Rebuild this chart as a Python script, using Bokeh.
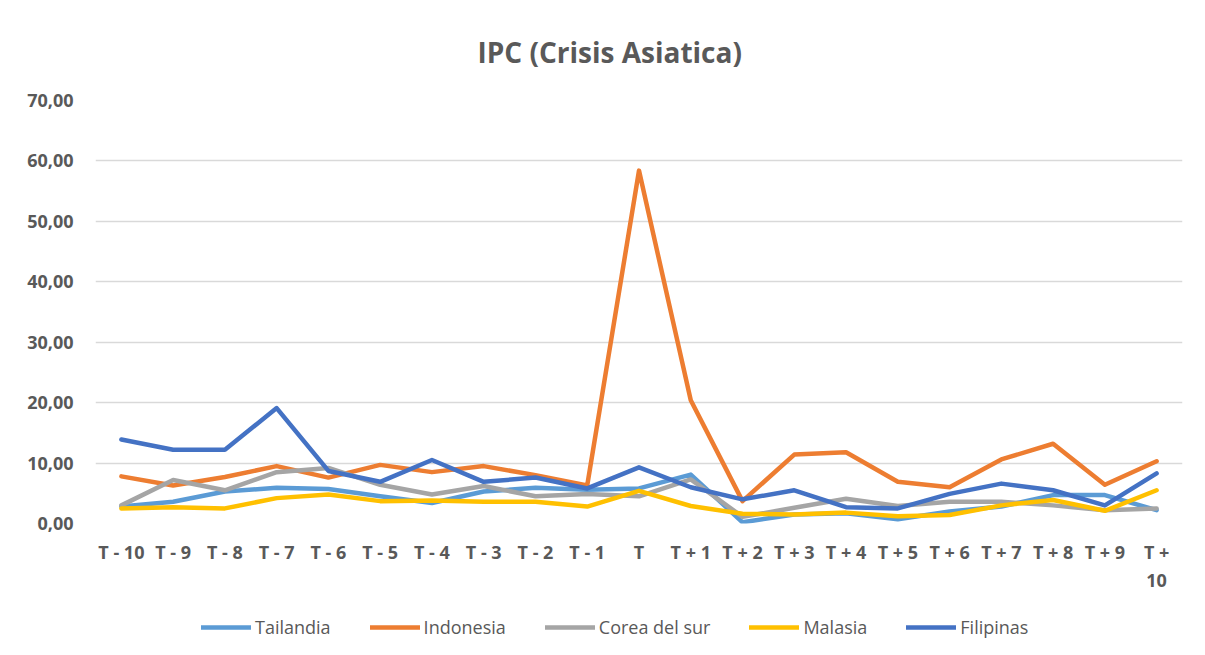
from bokeh.plotting import figure
from bokeh.layouts import column
from bokeh.models import FactorRange, Range1d, FixedTicker, Legend, LegendItem
from bokeh.embed import file_html
from bokeh.resources import INLINE

categories = ["T - 10", "T - 9", "T - 8", "T - 7", "T - 6", "T - 5", "T - 4", "T - 3", "T - 2", "T - 1", "T",
              "T + 1", "T + 2", "T + 3", "T + 4", "T + 5", "T + 6", "T + 7", "T + 8", "T + 9", "T +\n10"]

tailandia = [2.8, 3.6, 5.3, 5.9, 5.7, 4.5, 3.4, 5.3, 5.9, 5.6, 5.8,
             8.1, 0.2, 1.5, 1.7, 0.7, 2.0, 2.8, 4.7, 4.7, 2.2]
indonesia = [7.8, 6.3, 7.7, 9.5, 7.6, 9.7, 8.5, 9.5, 8.0, 6.3, 58.4,
             20.4, 3.7, 11.4, 11.8, 6.9, 6.0, 10.6, 13.2, 6.4, 10.3]
corea = [3.0, 7.2, 5.5, 8.5, 9.2, 6.4, 4.8, 6.2, 4.5, 4.9, 4.5,
         7.3, 1.1, 2.6, 4.1, 2.9, 3.6, 3.6, 3.0, 2.2, 2.5]
malasia = [2.5, 2.7, 2.5, 4.2, 4.8, 3.7, 3.8, 3.6, 3.6, 2.8, 5.4,
           2.9, 1.6, 1.5, 1.8, 1.2, 1.4, 3.0, 3.9, 2.1, 5.5]
filipinas = [13.9, 12.2, 12.2, 19.1, 8.7, 6.9, 10.5, 6.9, 7.6, 5.8, 9.3,
             6.0, 4.0, 5.5, 2.7, 2.5, 4.9, 6.6, 5.5, 3.0, 8.3]

series_names = ["Tailandia", "Indonesia", "Corea del sur", "Malasia", "Filipinas"]
series_values = [tailandia, indonesia, corea, malasia, filipinas]
colors = ["#5B9BD5", "#ED7D31", "#A5A5A5", "#FFC000", "#4472C4"]

y_ticks = [0, 10, 20, 30, 40, 50, 60, 70]
y_labels = ["0,00", "10,00", "20,00", "30,00", "40,00", "50,00", "60,00", "70,00"]

FONT = "Open Sans"
TXT = "#595959"
W = 1190

p = figure(width=W, height=600, x_range=FactorRange(*categories), y_range=Range1d(0, 70),
           output_backend="svg", toolbar_location=None,
           min_border_left=95, min_border_right=8, min_border_top=100, min_border_bottom=77)
p.outline_line_color = None
p.background_fill_color = "white"
p.border_fill_color = "white"

p.title.text = "IPC (Crisis Asiatica)"
p.title.align = "left"
p.title.offset = 382
p.title.text_font = FONT
p.title.text_font_size = "28px"
p.title.text_font_style = "bold"
p.title.text_color = TXT
p.title.standoff = 60

for name, vals, col in zip(series_names, series_values, colors):
    p.line(categories, vals, line_color=col, line_width=4.5, line_join="round", line_cap="round")

p.xgrid.grid_line_color = None
p.ygrid.grid_line_color = "#d9d9d9"
p.ygrid.grid_line_width = 1.5

p.yaxis.ticker = FixedTicker(ticks=y_ticks)
p.yaxis.major_label_overrides = {t: l for t, l in zip(y_ticks, y_labels)}
for ax in (p.xaxis, p.yaxis):
    ax.axis_line_color = None
    ax.major_tick_line_color = None
    ax.minor_tick_line_color = None
    ax.major_label_text_font = FONT
    ax.major_label_text_font_size = "18px"
    ax.major_label_text_font_style = "bold"
    ax.major_label_text_color = TXT
p.yaxis.major_label_standoff = 16
p.xaxis.major_label_standoff = 10

# legend strip below the chart
lg = figure(width=W, height=55, x_range=Range1d(0, 1), y_range=Range1d(0, 1),
            output_backend="svg", toolbar_location=None,
            x_axis_location=None, y_axis_location=None,
            min_border_left=0, min_border_right=0, min_border_top=0, min_border_bottom=0)
lg.grid.grid_line_color = None
lg.outline_line_color = None
lg.background_fill_color = "white"
lg.border_fill_color = "white"

nan = float("nan")
items = []
for name, col in zip(series_names, colors):
    r = lg.line(x=[nan], y=[nan], line_color=col, line_width=4.5, line_cap="round")
    items.append(LegendItem(label=name, renderers=[r]))

legend = Legend(items=items, orientation="horizontal", location=(106, 16),
                label_text_font=FONT, label_text_font_size="18px", label_text_color=TXT,
                glyph_width=50, label_standoff=4, spacing=39, border_line_color=None,
                background_fill_alpha=0, padding=6, margin=0)
lg.add_layout(legend)

layout = column(p, lg, spacing=0)
open("out.html", "w").write(file_html(layout, INLINE))
